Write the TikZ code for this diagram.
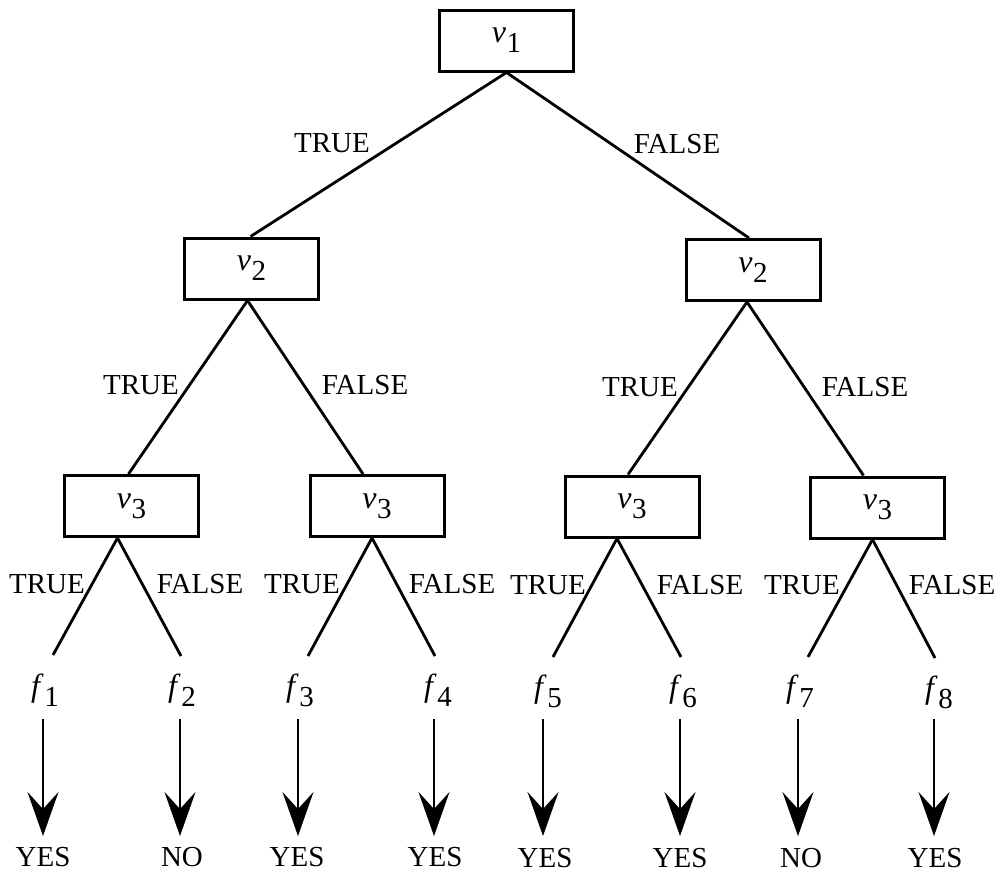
\documentclass[tikz,border=0pt]{standalone}
\usepackage{fontspec}
\setmainfont{Liberation Serif}
\usetikzlibrary{arrows.meta}
\newcommand\subv[2]{{\fontsize{32}{32}\selectfont\textit{#1}}\kern0.5pt\raisebox{-10pt}{#2}}
\begin{document}
\begin{tikzpicture}[x=1pt,y=-1pt,
  every node/.style={font=\fontsize{29}{31}\selectfont, inner sep=0pt},
  testbox/.style={draw, line width=3pt, minimum width=134pt, minimum height=61pt},
  edge/.style={line width=2.8pt},
  lbl/.style={},
  arr/.style={line width=2.8pt, -{Stealth[length=44pt,width=31pt,inset=17pt]}}]
\useasboundingbox (0,0) rectangle (999,873);
% decision boxes
\node[testbox] (v1)  at (506.5,40.5) {\subv{v}{1}};
\node[testbox] (v2a) at (251.5,268.5) {\subv{v}{2}};
\node[testbox] (v2b) at (753,270) {\subv{v}{2}};
\node[testbox] (v3a) at (131.5,506) {\subv{v}{3}};
\node[testbox] (v3b) at (377,506) {\subv{v}{3}};
\node[testbox] (v3c) at (632,506.5) {\subv{v}{3}};
\node[testbox] (v3d) at (877.5,507.5) {\subv{v}{3}};
% level 1 edges
\draw[edge] (v1.south) -- ([xshift=-1pt]v2a.north);
\draw[edge] (v1.south) -- ([xshift=-4pt]v2b.north);
\node[lbl] (t1) at (332,143) {TRUE};
\node[lbl] (e1) at (677,144) {FALSE};
% level 2 edges
\draw[edge] ([xshift=-4pt]v2a.south) -- ([xshift=-3pt]v3a.north);
\draw[edge] ([xshift=-4pt]v2a.south) -- ([xshift=-14pt]v3b.north);
\draw[edge] ([xshift=-6pt]v2b.south) -- ([xshift=-4pt]v3c.north);
\draw[edge] ([xshift=-6pt]v2b.south) -- ([xshift=-14pt]v3d.north);
\node[lbl] (t2a) at (141,385) {TRUE};
\node[lbl] (e2a) at (365,385) {FALSE};
\node[lbl] (t2b) at (640,387) {TRUE};
\node[lbl] (e2b) at (865,387) {FALSE};
% leaf edge ends
\coordinate (l1) at (53,655);
\coordinate (l2) at (181,656);
\coordinate (l3) at (308,656);
\coordinate (l4) at (435,656);
\coordinate (l5) at (553,657);
\coordinate (l6) at (681,657);
\coordinate (l7) at (808,657);
\coordinate (l8) at (935,658);
\draw[edge] ([xshift=-14pt]v3a.south) -- (l1);
\draw[edge] ([xshift=-14pt]v3a.south) -- (l2);
\draw[edge] ([xshift=-5pt]v3b.south) -- (l3);
\draw[edge] ([xshift=-5pt]v3b.south) -- (l4);
\draw[edge] ([xshift=-15pt]v3c.south) -- (l5);
\draw[edge] ([xshift=-15pt]v3c.south) -- (l6);
\draw[edge] ([xshift=-5pt]v3d.south) -- (l7);
\draw[edge] ([xshift=-5pt]v3d.south) -- (l8);
\node[lbl] (t3a) at (47,584) {TRUE};
\node[lbl] (e3a) at (200,584) {FALSE};
\node[lbl] (t3b) at (302,584) {TRUE};
\node[lbl] (e3b) at (452,584) {FALSE};
\node[lbl] (t3c) at (548,585) {TRUE};
\node[lbl] (e3c) at (700,585) {FALSE};
\node[lbl] (t3d) at (802,585) {TRUE};
\node[lbl] (e3d) at (952,585) {FALSE};
% leaves
\node (f1) at (45,690) {\subv{f}{1}};
\node (f2) at (182,690) {\subv{f}{2}};
\node (f3) at (300,690) {\subv{f}{3}};
\node (f4) at (438,690) {\subv{f}{4}};
\node (f5) at (548,691) {\subv{f}{5}};
\node (f6) at (683,691) {\subv{f}{6}};
\node (f7) at (800,691) {\subv{f}{7}};
\node (f8) at (939,692) {\subv{f}{8}};
% results
\node (y1) at (43,857) {YES};
\node (y2) at (182,857) {NO};
\node (y3) at (297,857) {YES};
\node (y4) at (435,857) {YES};
\node (y5) at (545,858) {YES};
\node (y6) at (680,858) {YES};
\node (y7) at (801,858) {NO};
\node (y8) at (935,858) {YES};
\foreach \f/\y/\ax in {f1/y1/43,f2/y2/180,f3/y3/298,f4/y4/434,f5/y5/543,f6/y6/680,f7/y7/798,f8/y8/934} {
  \draw[arr] (\ax,719) -- (\ax,836);
}
\end{tikzpicture}
\end{document}
